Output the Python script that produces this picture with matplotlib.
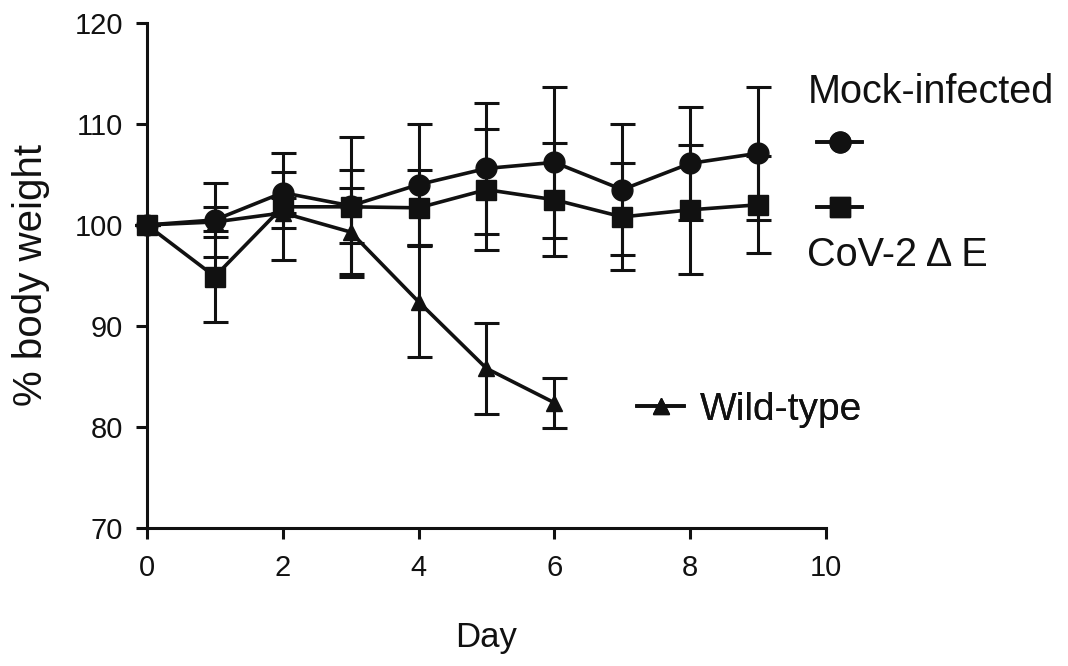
import matplotlib
matplotlib.use("Agg")
import matplotlib.pyplot as plt
from matplotlib.lines import Line2D

plt.rcParams['font.family'] = ['Liberation Sans', 'DejaVu Sans']

# values
days = [0, 1, 2, 3, 4, 5, 6, 7, 8, 9]
mock = [100, 100.5, 103.2, 101.9, 104.0, 105.6, 106.2, 103.5, 106.1, 107.1]
mock_err = [0, 3.7, 2.0, 6.8, 6.0, 6.5, 7.5, 6.5, 5.6, 6.6]
cov = [100, 94.9, 101.8, 101.8, 101.7, 103.5, 102.5, 100.8, 101.5, 102.0]
cov_err = [0, 4.5, 5.3, 3.6, 3.7, 6.0, 5.6, 5.3, 6.4, 4.8]
wt_days = [0, 1, 2, 3, 4, 5, 6]
wt = [100, 100.3, 101.2, 99.3, 92.4, 85.8, 82.4]
wt_err = [0, 1.5, 1.5, 4.4, 5.5, 4.5, 2.5]

x_ticks = [0, 2, 4, 6, 8, 10]
y_ticks = [70, 80, 90, 100, 110, 120]

ink = "#111111"

fig = plt.figure(figsize=(10.68, 6.66), dpi=100)
ax = fig.add_axes([0.1376, 0.2072, 0.6358, 0.7583])

style = dict(color=ink, lw=2.6, elinewidth=2.2, capsize=9, capthick=2.2, clip_on=False)
ax.errorbar(wt_days, wt, yerr=wt_err, marker='^', ms=12, **style)
ax.errorbar(days, cov, yerr=cov_err, marker='s', ms=14, **style)
ax.errorbar(days, mock, yerr=mock_err, marker='o', ms=15, **style)

ax.set_xlim(0, 10)
ax.set_ylim(70, 120)
ax.set_xticks(x_ticks)
ax.set_yticks(y_ticks)
for s in ['top', 'right']:
    ax.spines[s].set_visible(False)
for s in ['left', 'bottom']:
    ax.spines[s].set_linewidth(2.2)
    ax.spines[s].set_color(ink)
ax.tick_params(direction='out', length=8, width=2.2, colors=ink, labelsize=21)
ax.tick_params(axis='x', pad=11)
ax.tick_params(axis='y', pad=9)

ax.set_xlabel("Day", fontsize=25, color=ink, labelpad=28)
ax.set_ylabel("% body weight", fontsize=29, color=ink, labelpad=18)

# legend pieces laid out like the original
mock_h = Line2D([], [], color=ink, lw=2.6, marker='o', ms=15)
cov_h = Line2D([], [], color=ink, lw=2.6, marker='s', ms=14)
wt_h = Line2D([], [], color=ink, lw=2.6, marker='^', ms=12)

fig.text(0.756, 0.862, "Mock-infected", fontsize=28.5, color=ink, va='center', ha='left')
leg1 = fig.legend(handles=[mock_h], labels=[""], loc='center left',
                  bbox_to_anchor=(0.742, 0.782), frameon=False, handlelength=1.6,
                  fontsize=20, handletextpad=0)
fig.add_artist(leg1)
leg2 = fig.legend(handles=[cov_h], labels=[""], loc='center left',
                  bbox_to_anchor=(0.742, 0.685), frameon=False, handlelength=1.6,
                  fontsize=20, handletextpad=0)
fig.add_artist(leg2)
fig.text(0.756, 0.617, "CoV-2 Δ E", fontsize=28.5, color=ink, va='center', ha='left')
leg3 = fig.legend(handles=[wt_h], labels=["Wild-type"], loc='center left',
                  bbox_to_anchor=(0.564, 0.385), frameon=False, handlelength=1.2,
                  fontsize=28, handletextpad=0.4, labelcolor=ink)
fig.add_artist(leg3)

fig.savefig("out.png", dpi=100)
